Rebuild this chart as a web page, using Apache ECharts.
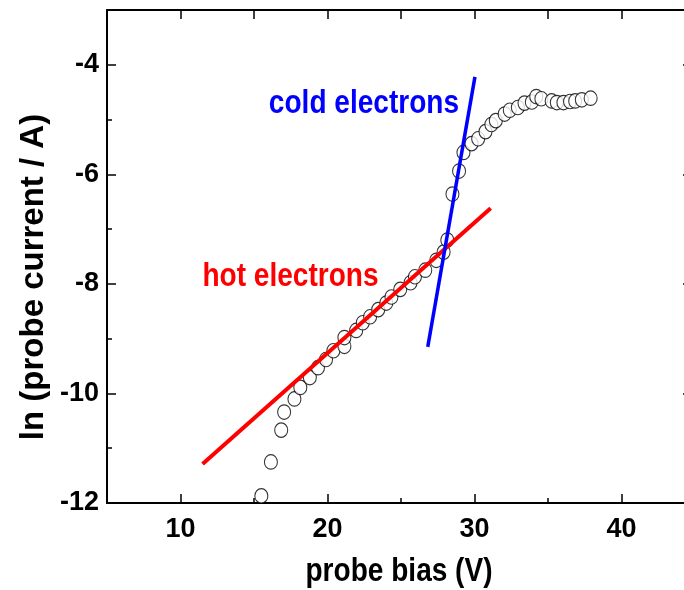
<!DOCTYPE html>
<html>
<head>
<meta charset="utf-8">
<script src="https://cdn.jsdelivr.net/npm/echarts@6/dist/echarts.min.js"></script>
<style>html,body{margin:0;padding:0;background:#fff}#c{width:684px;height:590px}</style>
</head>
<body>
<div id="c"></div>
<script>
// probe bias (V)
var biasV = [15.5, 16.15, 16.85, 17.05, 17.75, 18.15, 18.8, 19.35, 19.9, 20.4,
  21.15, 21.15, 21.95, 22.4, 22.9, 23.45, 24.0, 24.35, 24.95, 25.65,
  25.95, 26.65, 27.4, 27.9, 28.15, 28.5, 28.95, 29.25, 29.8, 30.25,
  30.75, 31.15, 31.45, 32.05, 32.4, 32.95, 33.4, 33.9, 34.2, 34.55,
  35.25, 35.6, 36.05, 36.5, 36.85, 37.3, 37.9];
// ln (probe current / A)
var lnI = [-11.87, -11.25, -10.67, -10.34, -10.10, -9.89, -9.71, -9.53, -9.38, -9.22,
  -9.14, -8.98, -8.85, -8.71, -8.60, -8.47, -8.35, -8.24, -8.10, -7.98,
  -7.87, -7.75, -7.57, -7.42, -7.20, -6.36, -5.94, -5.60, -5.44, -5.35,
  -5.22, -5.09, -5.02, -4.90, -4.83, -4.78, -4.70, -4.68, -4.58, -4.62,
  -4.66, -4.69, -4.69, -4.67, -4.66, -4.64, -4.61];
// fit lines
var hotFitX = [11.5, 31.1];
var hotFitY = [-11.29, -6.62];
var coldFitX = [26.82, 30.03];
var coldFitY = [-9.15, -4.22];
// annotations (data coordinates of text centre)
var annotText = ['cold electrons', 'hot electrons'];
var annotX = [22.48, 17.48];
var annotY = [-4.72, -7.88];
// ticks
var xLabelTicks = [10, 20, 30, 40];
var xMinorTicks = [15, 25, 35];
var xTopTicks = [10, 15, 20, 25, 30, 35, 40];
var yLabelTicks = [-12, -10, -8, -6, -4];
var yMinorTicks = [-11, -9, -7, -5];
var xTitle = 'probe bias (V)';
var yTitle = 'ln (probe current / A)';

var FONT = "'Liberation Sans', Arial, sans-serif";
function zip(a, b) { return a.map(function (v, i) { return [v, b[i]]; }); }

var chart = echarts.init(document.getElementById('c'), null, {renderer: 'canvas'});
var lineAx = {show: true, lineStyle: {color: '#000', width: 2}};
var baseX = {type: 'value', min: 5, max: 45, gridIndex: 0, splitLine: {show: false}};
var baseY = {type: 'value', min: -12, max: -3, gridIndex: 0, splitLine: {show: false}};
var tickStyle = {color: '#000', width: 1.5};

var option = {
  backgroundColor: '#fff',
  animation: false,
  grid: {left: 107, top: 10, width: 588, height: 493, containLabel: false, outerBoundsMode: 'none'},
  xAxis: [
    Object.assign({}, baseX, {
      position: 'bottom',
      axisLine: lineAx,
      axisTick: {inside: true, length: 9, lineStyle: tickStyle, customValues: xLabelTicks},
      axisLabel: {fontFamily: FONT, fontWeight: 'bold', fontSize: 27, color: '#000', margin: 13, customValues: xLabelTicks}
    }),
    Object.assign({}, baseX, {
      position: 'bottom',
      axisLine: {show: false},
      axisTick: {inside: true, length: 5, lineStyle: tickStyle, customValues: xMinorTicks},
      axisLabel: {show: false}
    }),
    Object.assign({}, baseX, {
      position: 'top',
      axisLine: lineAx,
      axisTick: {inside: true, length: 9, lineStyle: tickStyle, customValues: xTopTicks},
      axisLabel: {show: false}
    })
  ],
  yAxis: [
    Object.assign({}, baseY, {
      position: 'left',
      axisLine: lineAx,
      axisTick: {inside: true, length: 9, lineStyle: tickStyle, customValues: yLabelTicks},
      axisLabel: {fontFamily: FONT, fontWeight: 'bold', fontSize: 27, color: '#000', margin: 8, customValues: yLabelTicks}
    }),
    Object.assign({}, baseY, {
      position: 'left',
      axisLine: {show: false},
      axisTick: {inside: true, length: 5, lineStyle: tickStyle, customValues: yMinorTicks},
      axisLabel: {show: false}
    }),
    Object.assign({}, baseY, {
      position: 'right',
      axisLine: lineAx,
      axisTick: {inside: true, length: 12, lineStyle: tickStyle, customValues: yLabelTicks},
      axisLabel: {show: false}
    })
  ],
  series: [
    {
      type: 'scatter', xAxisIndex: 0, yAxisIndex: 0, data: zip(biasV, lnI),
      symbol: 'circle', symbolSize: [13, 14.5],
      itemStyle: {color: '#fff', borderColor: '#000', borderWidth: 1.1}, z: 3
    },
    {
      type: 'line', xAxisIndex: 0, yAxisIndex: 0, data: zip(hotFitX, hotFitY),
      symbol: 'none', lineStyle: {color: '#ff0000', width: 4}, z: 4
    },
    {
      type: 'line', xAxisIndex: 0, yAxisIndex: 0, data: zip(coldFitX, coldFitY),
      symbol: 'none', lineStyle: {color: '#0000ff', width: 3.5}, z: 5
    }
  ]
};
chart.setOption(option);

// text: horizontally condensed bold text like the reference
var annotColor = ['#0000ff', '#ff0000'];
var texts = [];
annotText.forEach(function (t, i) {
  var p = chart.convertToPixel({xAxisIndex: 0, yAxisIndex: 0}, [annotX[i], annotY[i]]);
  texts.push({
    type: 'text', x: p[0], y: p[1], scaleX: 0.85, z: 10,
    style: {text: t, fill: annotColor[i], font: 'bold 33px ' + FONT, align: 'center', verticalAlign: 'middle'}
  });
});
texts.push({
  type: 'text', x: 399, y: 572, scaleX: 0.85, z: 10,
  style: {text: xTitle, fill: '#000', font: 'bold 33px ' + FONT, align: 'center', verticalAlign: 'middle'}
});
texts.push({
  type: 'text', x: 34, y: 277, rotation: Math.PI / 2, z: 10,
  style: {text: yTitle, fill: '#000', font: 'bold 33px ' + FONT, align: 'center', verticalAlign: 'middle'}
});
chart.setOption({graphic: {elements: texts}});
</script>
</body>
</html>
